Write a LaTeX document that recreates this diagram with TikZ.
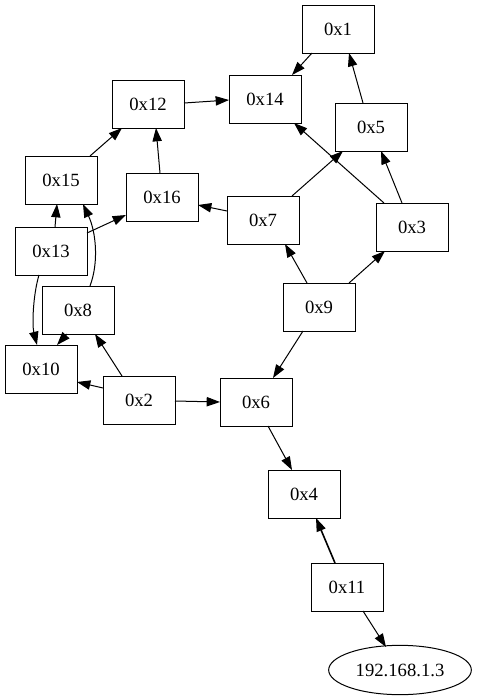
\documentclass[tikz,border=0pt]{standalone}
\usepackage{fontspec}
\setmainfont{Liberation Serif}
\usetikzlibrary{arrows.meta,shapes.geometric}
\begin{document}
\begin{tikzpicture}[x=0.75pt,y=-0.75pt,
  box/.style={draw,line width=0.75pt,minimum width=54pt,minimum height=36pt,inner sep=0pt,
    font=\fontsize{14}{16}\selectfont},
  oval/.style={draw,line width=0.75pt,ellipse,minimum width=107pt,minimum height=37pt,inner sep=0pt,
    font=\fontsize{14}{16}\selectfont},
  edge/.style={line width=0.75pt,-{Triangle[length=10pt,width=7pt]}}]
\useasboundingbox (0,0) rectangle (477,700);
% nodes
\node[box] (n1)  at (338,29)  {0x1};
\node[box] (n14) at (265,99)  {0x14};
\node[box] (n12) at (148,104) {0x12};
\node[box] (n5)  at (371,127) {0x5};
\node[box] (n15) at (61,180)  {0x15};
\node[box] (n16) at (162,197) {0x16};
\node[box] (n7)  at (263,220) {0x7};
\node[box] (n3)  at (412,227) {0x3};
\node[box] (n13) at (51,251)  {0x13};
\node[box] (n9)  at (319,307) {0x9};
\node[box] (n8)  at (78,310)  {0x8};
\node[box] (n10) at (41,369)  {0x10};
\node[box] (n2)  at (139,400) {0x2};
\node[box] (n6)  at (256,402) {0x6};
\node[box] (n4)  at (304,494) {0x4};
\node[box] (n11) at (347,587) {0x11};
\node[oval] (nip) at (400,670) {192.168.1.3};
% edges
\draw[edge] ([shift={(-26,24)}]n1.center) -- ([shift={(27,-24)}]n14.center);
\draw[edge] ([shift={(-8,-24)}]n5.center) -- ([shift={(11,24)}]n1.center);
\draw[edge] ([shift={(-28,-24)}]n3.center) -- ([shift={(29,24)}]n14.center);
\draw[edge] ([shift={(-10,-24)}]n3.center) -- ([shift={(10,24)}]n5.center);
\draw[edge] ([shift={(29,-24)}]n7.center) -- ([shift={(-28,24)}]n5.center);
\draw[edge] ([shift={(-36,-9)}]n7.center) -- ([shift={(36,8)}]n16.center);
\draw[edge] ([shift={(-12,-24)}]n9.center) -- ([shift={(22,24)}]n7.center);
\draw[edge] ([shift={(30,-24)}]n9.center) -- ([shift={(-27,24)}]n3.center);
\draw[edge] ([shift={(-16,24)}]n9.center) -- ([shift={(17,-24)}]n6.center);
\draw[edge] ([shift={(36,-1)}]n12.center) -- ([shift={(-36,1)}]n14.center);
\draw[edge] ([shift={(-2,-24)}]n16.center) -- ([shift={(8,24)}]n12.center);
\draw[edge] ([shift={(29,-24)}]n15.center) -- ([shift={(-26,24)}]n12.center);
\draw[edge] ([shift={(4,-24)}]n13.center) -- ([shift={(-4,24)}]n15.center);
\draw[edge] ([shift={(36,-18)}]n13.center) -- ([shift={(-36,18)}]n16.center);
\draw[edge] ([shift={(-12,24)}]n13.center) .. controls (33,295) and (32,325) .. ([shift={(-4,-24)}]n10.center);
\draw[edge] ([shift={(12,-24)}]n8.center) .. controls (99,262) and (96,232) .. ([shift={(22,24)}]n15.center);
\draw[edge] ([shift={(-11,24)}]n8.center) -- ([shift={(16,-24)}]n10.center);
\draw[edge] ([shift={(-17,-24)}]n2.center) -- ([shift={(17,24)}]n8.center);
\draw[edge] ([shift={(-36,-12)}]n2.center) -- ([shift={(36,13)}]n10.center);
\draw[edge] ([shift={(36,1)}]n2.center) -- ([shift={(-36,0)}]n6.center);
\draw[edge] ([shift={(12,24)}]n6.center) -- ([shift={(-12,-24)}]n4.center);
\draw[edge,line width=1.2pt] ([shift={(-12,-24)}]n11.center) -- ([shift={(12,24)}]n4.center);
\draw[edge] ([shift={(16,24)}]n11.center) -- ([shift={(-14,-23)}]nip.center);
\end{tikzpicture}
\end{document}
